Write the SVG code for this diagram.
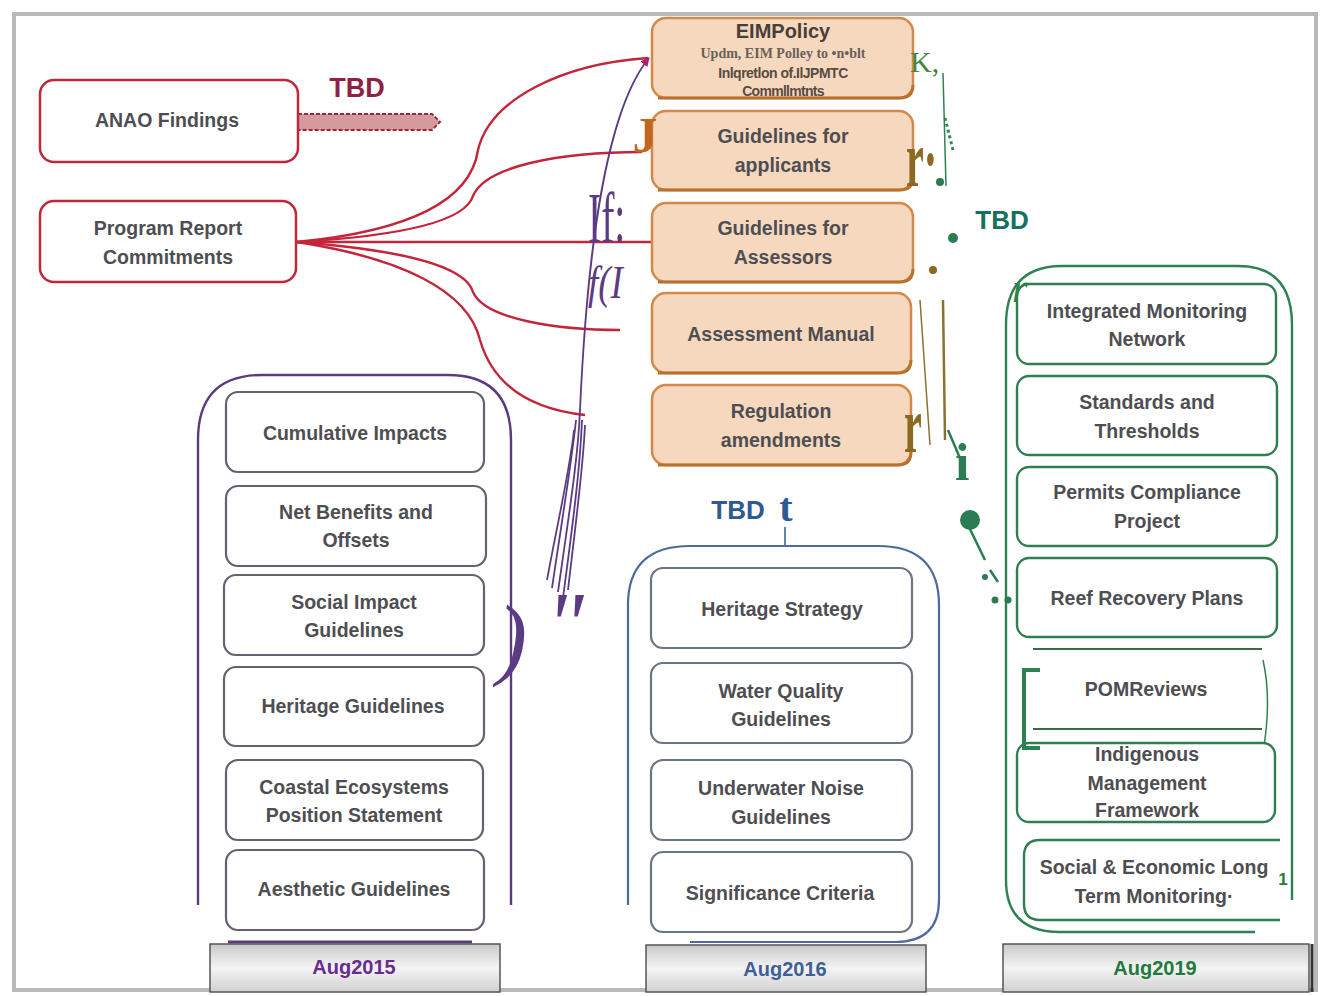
<svg xmlns="http://www.w3.org/2000/svg" width="1326" height="996" viewBox="0 0 1326 996">
<defs>
<style>
.t{font-family:"Liberation Sans",Arial,sans-serif;font-weight:bold;font-size:19.5px;fill:#4e4e52;text-anchor:middle}
.red{fill:#fff;stroke:#c0283a;stroke-width:2.5}
.org{fill:#f6d8bf;stroke:#d3894a;stroke-width:2.5}
.orgs{fill:none;stroke:#b8712c;stroke-width:3}
.pin{fill:#fff;stroke:#67606f;stroke-width:2.2}
.bin{fill:#fff;stroke:#6b7484;stroke-width:2.2}
.gin{fill:#fff;stroke:#2f7d50;stroke-width:2.4}
.rc{fill:none;stroke:#c3263a;stroke-width:2.4}
.pc{fill:none;stroke:#5b3b82;stroke-width:1.8}
.ser{font-family:"Liberation Serif","Times New Roman",serif}
.bar{stroke:#555;stroke-width:1.5}
</style>
<linearGradient id="gbar" x1="0" y1="0" x2="0" y2="1">
<stop offset="0" stop-color="#c9c9c9"/><stop offset="0.5" stop-color="#f4f4f4"/><stop offset="1" stop-color="#d0d0d0"/>
</linearGradient>
<marker id="ah" viewBox="0 0 10 10" refX="9" refY="5" markerWidth="5" markerHeight="5" orient="auto">
<path d="M0,0 L10,5 L0,10 z" fill="#b0206a"/>
</marker>
</defs>
<rect width="1326" height="996" fill="#fff"/>
<rect x="14" y="14" width="1302" height="976" fill="none" stroke="#b9b9b9" stroke-width="4"/>

<!-- column frames -->
<g id="col2015">
<path d="M198,905 V440 Q198,375 262,375 H448 Q511,375 511,440 V905" fill="none" stroke="#5a3c7e" stroke-width="2.4"/>
<line x1="228" y1="942" x2="472" y2="942" stroke="#5a3c7e" stroke-width="3"/>
<rect x="210" y="944" width="290" height="48" fill="url(#gbar)" class="bar"/>
<text x="354" y="974" class="t" style="fill:#6a2c8c;font-size:20px">Aug2015</text>
</g>
<g id="col2016">
<path d="M628,905 V605 Q628,546 690,546 H878 Q939,546 939,605 V900 Q939,942 895,942 H690" fill="none" stroke="#4d6a9c" stroke-width="2.2"/>
<rect x="646" y="945" width="280" height="47" fill="url(#gbar)" class="bar"/>
<text x="785" y="976" class="t" style="fill:#3f5f98;font-size:20px">Aug2016</text>
<text x="738" y="519" class="t" style="fill:#2d5a92;font-size:26px">TBD</text>
<text x="786" y="521" class="ser" style="fill:#2d5a92;font-size:40px;font-weight:bold" text-anchor="middle">t</text>
<line x1="785" y1="527" x2="785" y2="545" stroke="#2d5a92" stroke-width="1.5"/>
</g>
<g id="col2019">
<path d="M1006,880 V325 Q1006,266 1062,266 H1238 Q1292,266 1292,325 V900" fill="none" stroke="#2e8252" stroke-width="2.4"/>
<path d="M1006,880 Q1006,932 1060,932 H1255" fill="none" stroke="#2e8252" stroke-width="2.4"/>
<rect x="1003" y="944" width="306" height="48" fill="url(#gbar)" class="bar"/>
<line x1="1312" y1="944" x2="1312" y2="992" stroke="#333" stroke-width="3"/>
<text x="1155" y="975" class="t" style="fill:#1f7a3c;font-size:20px">Aug2019</text>
<text x="1002" y="229" class="t" style="fill:#16705e;font-size:26px">TBD</text>
</g>

<!-- connectors -->
<g id="connectors">
<path d="M298,114 H432 L440,122 L432,130 H298 Z" fill="#d59a9e" stroke="#a3243a" stroke-width="2" stroke-dasharray="4,2"/>
<path class="rc" d="M297,242 C400,232 470,205 478,150 C490,100 560,64 648,58"/>
<path class="rc" d="M297,242 C400,236 465,222 473,196 C485,166 560,152 642,152"/>
<path class="rc" d="M297,242 H652"/>
<path class="rc" d="M297,242 C400,250 465,265 473,292 C485,320 560,330 620,330"/>
<path class="rc" d="M297,242 C400,258 468,290 480,340 C495,392 540,410 585,415"/>
<path class="pc" d="M558,592 C568,520 578,460 580,410 C585,300 598,120 649,58" marker-end="url(#ah)"/>
<path class="pc" d="M552,588 C562,520 572,460 576,420"/>
<path class="pc" d="M563,598 C572,530 580,470 582,420"/>
<path class="pc" d="M568,590 C576,520 583,470 585,425"/>
<path class="pc" d="M547,580 C558,520 570,470 574,430"/>
<path d="M945,118 L953,150" stroke="#2e8a5a" stroke-width="3" stroke-dasharray="3,3" fill="none"/>
<line x1="943" y1="73" x2="946" y2="186" stroke="#2e8252" stroke-width="1.5"/>
<line x1="920" y1="300" x2="930" y2="445" stroke="#8a7230" stroke-width="1.5"/>
<line x1="943" y1="300" x2="945" y2="440" stroke="#8a7230" stroke-width="2.5"/>
<path d="M948,430 L965,470 M968,525 L985,560 M990,570 L998,582" stroke="#2a7d52" stroke-width="2.5" fill="none"/>
</g>

<!-- red nodes -->
<g id="anao"><rect x="40" y="80" width="258" height="82" rx="14" class="red"/><text x="167" y="127" class="t">ANAO Findings</text></g>
<g id="tbd-red"><text x="357" y="97" class="t" style="fill:#8e2245;font-size:27px">TBD</text></g>
<g id="program"><rect x="40" y="201" width="256" height="81" rx="14" class="red"/><text x="168" y="235" class="t">Program Report</text><text x="168" y="264" class="t">Commitments</text></g>

<!-- orange nodes -->
<g id="eim"><rect x="652" y="18" width="261" height="80" rx="14" class="org"/><path d="M658,98 H900 Q913,98 913,85" class="orgs"/>
<text x="783" y="38" class="t" style="font-size:20px;fill:#4a3f38">EIMPolicy</text>
<text x="783" y="58" class="ser" style="font-size:14px;font-weight:bold;fill:#6a6058" text-anchor="middle">Updm, EIM Polley to •n•blt</text>
<text x="783" y="78" class="t" style="font-size:14px;fill:#5a4a40;letter-spacing:-0.5px">Inlqretlon of.IlJPMTC</text>
<text x="783" y="96" class="t" style="font-size:14px;fill:#5a4a40;letter-spacing:-0.7px">Commllmtnts</text></g>
<g id="g-app"><rect x="652" y="111" width="261" height="79" rx="14" class="org"/><path d="M658,190 H900 Q913,190 913,177" class="orgs"/><text x="783" y="143" class="t">Guidelines for</text><text x="783" y="172" class="t">applicants</text></g>
<g id="g-ass"><rect x="652" y="203" width="261" height="79" rx="14" class="org"/><path d="M658,282 H900 Q913,282 913,269" class="orgs"/><text x="783" y="235" class="t">Guidelines for</text><text x="783" y="264" class="t">Assessors</text></g>
<g id="manual"><rect x="652" y="293" width="259" height="80" rx="14" class="org"/><path d="M658,373 H898 Q911,373 911,360" class="orgs"/><text x="781" y="341" class="t">Assessment Manual</text></g>
<g id="reg"><rect x="652" y="385" width="259" height="80" rx="14" class="org"/><path d="M658,465 H898 Q911,465 911,452" class="orgs"/><text x="781" y="418" class="t">Regulation</text><text x="781" y="447" class="t">amendments</text></g>

<!-- 2015 nodes -->
<g id="cum"><rect x="226" y="392" width="258" height="80" rx="12" class="pin"/><text x="355" y="440" class="t">Cumulative Impacts</text></g>
<g id="net"><rect x="226" y="486" width="260" height="80" rx="12" class="pin"/><text x="356" y="519" class="t">Net Benefits and</text><text x="356" y="547" class="t">Offsets</text></g>
<g id="soc"><rect x="224" y="575" width="260" height="80" rx="12" class="pin"/><text x="354" y="609" class="t">Social Impact</text><text x="354" y="637" class="t">Guidelines</text></g>
<g id="her"><rect x="224" y="667" width="260" height="79" rx="12" class="pin"/><text x="353" y="713" class="t">Heritage Guidelines</text></g>
<g id="coast"><rect x="226" y="760" width="257" height="80" rx="12" class="pin"/><text x="354" y="794" class="t">Coastal Ecosystems</text><text x="354" y="822" class="t">Position Statement</text></g>
<g id="aes"><rect x="226" y="850" width="258" height="80" rx="12" class="pin"/><text x="354" y="896" class="t">Aesthetic Guidelines</text></g>

<!-- 2016 nodes -->
<g id="hs"><rect x="651" y="568" width="261" height="80" rx="12" class="bin"/><text x="782" y="616" class="t">Heritage Strategy</text></g>
<g id="wq"><rect x="651" y="663" width="261" height="80" rx="12" class="bin"/><text x="781" y="698" class="t">Water Quality</text><text x="781" y="726" class="t">Guidelines</text></g>
<g id="un"><rect x="651" y="760" width="261" height="80" rx="12" class="bin"/><text x="781" y="795" class="t">Underwater Noise</text><text x="781" y="824" class="t">Guidelines</text></g>
<g id="sc"><rect x="651" y="852" width="261" height="80" rx="12" class="bin"/><text x="780" y="900" class="t">Significance Criteria</text></g>

<!-- 2019 nodes -->
<g id="imn"><rect x="1017" y="284" width="259" height="80" rx="12" class="gin"/><text x="1147" y="318" class="t">Integrated Monitoring</text><text x="1147" y="346" class="t">Network</text></g>
<g id="st"><rect x="1017" y="376" width="260" height="79" rx="12" class="gin"/><text x="1147" y="409" class="t">Standards and</text><text x="1147" y="438" class="t">Thresholds</text></g>
<g id="pcp"><rect x="1017" y="467" width="260" height="79" rx="12" class="gin"/><text x="1147" y="499" class="t">Permits Compliance</text><text x="1147" y="528" class="t">Project</text></g>
<g id="rrp"><rect x="1017" y="558" width="260" height="79" rx="12" class="gin"/><text x="1147" y="605" class="t">Reef Recovery Plans</text></g>
<g id="pom"><line x1="1033" y1="649" x2="1262" y2="649" stroke="#3a6a4a" stroke-width="2"/><line x1="1033" y1="729" x2="1262" y2="729" stroke="#3a6a4a" stroke-width="2"/><path d="M1263,660 Q1272,700 1263,752" fill="none" stroke="#2e8252" stroke-width="1.5"/><text x="1146" y="696" class="t">POMReviews</text></g>
<g id="imf"><rect x="1017" y="743" width="258" height="79" rx="12" class="gin"/><text x="1147" y="761" class="t">Indigenous</text><text x="1147" y="790" class="t">Management</text><text x="1147" y="817" class="t">Framework</text></g>
<g id="sel"><path d="M1280,840 H1040 Q1024,840 1024,856 V904 Q1024,920 1040,920 H1280" fill="#fff" stroke="#2f7d50" stroke-width="2.4"/><text x="1154" y="874" class="t">Social &amp; Economic Long</text><text x="1154" y="903" class="t">Term Monitoring·</text></g>

<!-- artifacts as text -->
<g id="glyphs">
<text x="645" y="152" class="ser" style="fill:#c0661e;font-size:50px;font-weight:bold" text-anchor="middle">J</text>
<text transform="translate(588,242) scale(0.55,1)" class="ser" style="fill:#5b3b82;font-size:72px">If:</text>
<text transform="translate(588,298) scale(0.8,1)" class="ser" style="fill:#5b3b82;font-size:46px;font-style:italic">f(I</text>
<text x="497" y="668" class="ser" style="fill:#5b3b82;font-size:90px;font-style:italic">)</text>
<text x="546" y="655" class="ser" style="fill:#5b3b82;font-size:90px;font-style:italic">"</text>
<text x="910" y="72" class="ser" style="fill:#3f8a3a;font-size:30px">K,</text>
<text transform="translate(906,186) scale(0.5,1)" class="ser" style="fill:#8a6a22;font-size:80px;font-weight:bold">r·</text>
<text transform="translate(904,452) scale(0.5,1)" class="ser" style="fill:#8a6a22;font-size:80px;font-weight:bold">r</text>
<text x="955" y="480" class="ser" style="fill:#2a7d52;font-size:52px;font-weight:bold">i</text>
<circle cx="940" cy="182" r="4" fill="#2a7d52"/>
<circle cx="953" cy="238" r="5" fill="#2a7d52"/>
<circle cx="933" cy="270" r="4" fill="#8a6a22"/>
<circle cx="970" cy="520" r="10" fill="#2a7d52"/>
<circle cx="985" cy="577" r="3" fill="#2a7d52"/>
<circle cx="995" cy="600" r="3.5" fill="#2a7d52"/>
<circle cx="1008" cy="600" r="3.5" fill="#2a7d52"/>
<text x="1283" y="885" class="t" style="fill:#1f7a3c;font-size:17px">1</text>
<text x="1012" y="302" class="ser" style="fill:#2e8252;font-size:40px;font-style:italic">r</text>
<path d="M1040,670 H1024 V748 H1040" fill="none" stroke="#2e8252" stroke-width="4"/>
</g>
</svg>
